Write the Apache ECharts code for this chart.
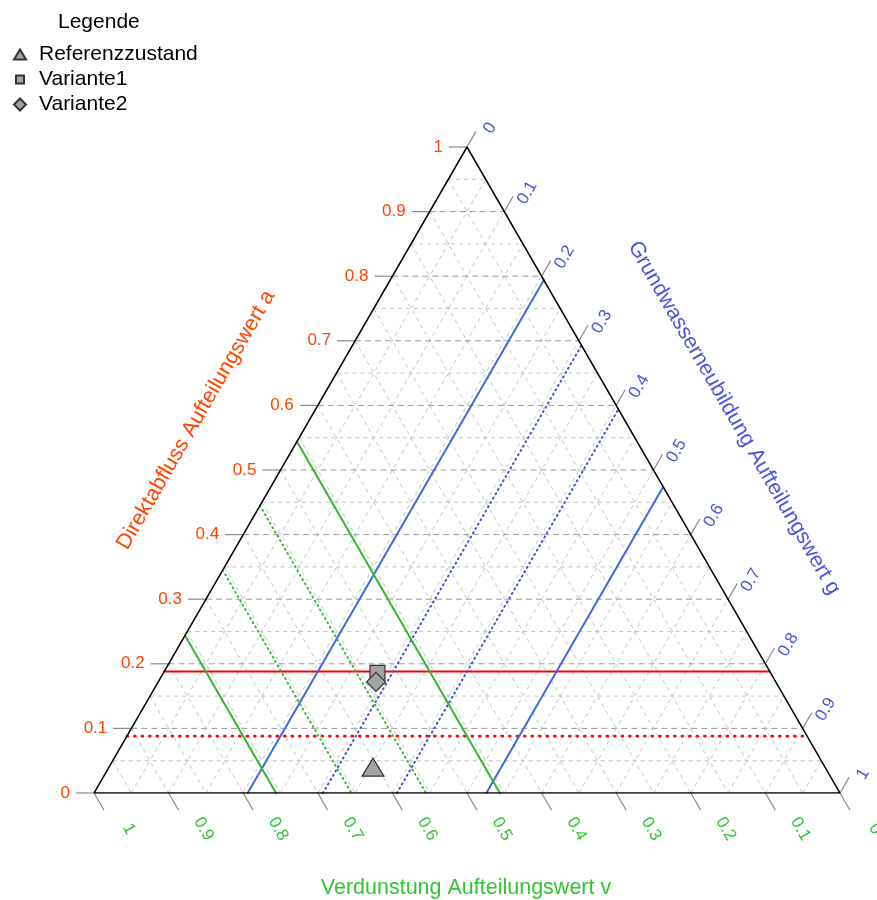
<!DOCTYPE html>
<html><head><meta charset="utf-8">
<script src="https://cdn.jsdelivr.net/npm/echarts@6/dist/echarts.min.js"></script>
<style>html,body{margin:0;padding:0;background:#fff}#c{width:877px;height:900px}</style>
</head><body><div id="c"></div>
<script>
// ---------------- data ----------------
const seriesNames = ['Referenzzustand', 'Variante1', 'Variante2'];
const pointA = [0.040, 0.186, 0.172];   // Direktabfluss
const pointV = [0.606, 0.527, 0.536];   // Verdunstung
const pointG = [0.354, 0.287, 0.292];   // Grundwasserneubildung
const redSolidA = [0.188];
const redDottedA = [0.088];
const blueSolidG = [0.206, 0.526];
const blueDottedG = [0.307, 0.406];
const greenSolidV = [0.756, 0.456];
const greenDottedV = [0.655, 0.555];
const tickValues = [0, 0.1, 0.2, 0.3, 0.4, 0.5, 0.6, 0.7, 0.8, 0.9, 1];
const tickLabels = ['0', '0.1', '0.2', '0.3', '0.4', '0.5', '0.6', '0.7', '0.8', '0.9', '1'];
const gridValues = [0.05, 0.1, 0.15, 0.2, 0.25, 0.3, 0.35, 0.4, 0.45, 0.5, 0.55, 0.6, 0.65, 0.7, 0.75, 0.8, 0.85, 0.9, 0.95];
const axisTitleA = 'Direktabfluss Aufteilungswert a';
const axisTitleG = 'Grundwasserneubildung Aufteilungswert g';
const axisTitleV = 'Verdunstung Aufteilungswert v';

// ---------------- helpers ----------------
const H = Math.sqrt(3) / 2;
function tern(a, g) { return [g + a / 2, a * H]; }
const FONT = '"Liberation Sans", Arial, sans-serif';
const C_RED = '#FF4500', C_BLUE = '#4B55DD', C_GREEN = '#33C433';

const chart = echarts.init(document.getElementById('c'), null, { renderer: 'canvas' });

function lineSeries(p1, p2, color, width, type, z) {
  return {
    type: 'line', data: [p1, p2], symbol: 'none', silent: true, z: z || 4,
    lineStyle: { color: color, width: width, type: type, cap: 'round' },
    animation: false
  };
}

const series = [];

// grid lines
series.push({
  type: 'custom', silent: true, z: 1, animation: false,
  data: gridValues.map(t => [t, 0]),
  renderItem: function (params, api) {
    const t = api.value(0);
    const major = Math.round(t * 20) % 2 === 0;
    const seg = (p, q, stroke, dash) => {
      const A = api.coord(p), B = api.coord(q);
      return { type: 'line', shape: { x1: A[0], y1: A[1], x2: B[0], y2: B[1] },
        style: { stroke: stroke, lineWidth: 1, lineDash: dash } };
    };
    return { type: 'group', children: [
      seg(tern(t, 0), tern(t, 1 - t), major ? '#999' : '#c4c4c4', major ? [6, 4] : [4, 4]),
      seg(tern(0, t), tern(1 - t, t), '#c4c4c4', [4, 4]),
      seg(tern(1 - t, 0), tern(0, 1 - t), '#c4c4c4', [4, 4])
    ] };
  }
});

// axis ticks + labels
function axisSeries(pts, cfg) {
  return {
    type: 'custom', silent: true, z: 3, animation: false,
    data: pts.map((p, i) => [p[0], p[1], i]),
    renderItem: function (params, api) {
      const p = api.coord([api.value(0), api.value(1)]);
      const i = api.value(2);
      return { type: 'group', children: [
        { type: 'line', shape: { x1: p[0], y1: p[1], x2: p[0] + cfg.dx, y2: p[1] + cfg.dy },
          style: { stroke: '#8a8a8a', lineWidth: 1.2 } },
        { type: 'text', x: p[0] + cfg.lx, y: p[1] + cfg.ly, rotation: cfg.rot,
          style: { text: tickLabels[i], fill: cfg.color, font: '17px ' + FONT,
            align: cfg.align, verticalAlign: 'middle' } }
      ] };
    }
  };
}
series.push(axisSeries(tickValues.map(t => tern(t, 0)),
  { dx: -18, dy: 0, lx: -24, ly: 0, rot: 0, align: 'right', color: C_RED }));
series.push(axisSeries(tickValues.map(t => tern(1 - t, t)),
  { dx: 9, dy: -15.6, lx: 23, ly: -19, rot: Math.PI / 3, align: 'center', color: C_BLUE }));
series.push(axisSeries(tickValues.map(t => tern(0, 1 - t)),
  { dx: 10, dy: 17.3, lx: 35, ly: 36, rot: -Math.PI / 3, align: 'center', color: C_GREEN }));

// reference lines
redSolidA.forEach(a => series.push(lineSeries(tern(a, 0), tern(a, 1 - a), '#FF0000', 2, 'solid')));
redDottedA.forEach(a => series.push(lineSeries(tern(a, 0), tern(a, 1 - a), '#FF0000', 2.6, [1, 6.5])));
blueSolidG.forEach(g => series.push(lineSeries(tern(0, g), tern(1 - g, g), '#4169E1', 2, 'solid')));
blueDottedG.forEach(g => series.push(lineSeries(tern(0, g), tern(1 - g, g), '#4050E0', 2, [1, 4])));
greenSolidV.forEach(v => series.push(lineSeries(tern(1 - v, 0), tern(0, 1 - v), '#2DBA2D', 2, 'solid')));
greenDottedV.forEach(v => series.push(lineSeries(tern(1 - v, 0), tern(0, 1 - v), '#33BB33', 2, [1, 4])));

// triangle frame
series.push({
  type: 'line', silent: true, symbol: 'none', z: 5, animation: false,
  data: [tern(0, 0), tern(0, 1), tern(1, 0), tern(0, 0)],
  lineStyle: { color: '#000', width: 1.5 }
});

// points
const symbols = ['triangle', 'rect', 'diamond'];
const sizes = [[22, 18], 15, [19, 19]];
seriesNames.forEach((n, i) => {
  series.push({
    type: 'scatter', name: n, symbol: symbols[i], symbolSize: sizes[i], z: 10 + i,
    data: [tern(pointA[i], pointG[i])], animation: false,
    itemStyle: { color: '#a3a3a3', borderColor: '#333', borderWidth: 1.2, opacity: 1 }
  });
});

chart.setOption({
  animation: false,
  backgroundColor: '#fff',
  title: { text: 'Legende', left: 53, top: 7,
    textStyle: { fontSize: 21, fontWeight: 'normal', color: '#000', fontFamily: FONT } },
  legend: {
    data: [
      { name: seriesNames[0], icon: 'path://M0,0M14,14M1,12L7,2L13,12Z' },
      { name: seriesNames[1], icon: 'path://M0,0M14,14M3,3L11,3L11,11L3,11Z' },
      { name: seriesNames[2], icon: 'path://M0,0M14,14M7,1L13,7L7,13L1,7Z' }
    ],
    orient: 'vertical', left: 7, top: 39, itemGap: 4,
    itemWidth: 14, itemHeight: 14, selectedMode: false,
    textStyle: { fontSize: 21, color: '#000', fontFamily: FONT, padding: [0, 0, 0, 7] }
  },
  grid: { left: 94, top: 147, width: 746, height: 646, containLabel: false },
  xAxis: { type: 'value', min: 0, max: 1, show: false },
  yAxis: { type: 'value', min: 0, max: H, show: false },
  graphic: [
    { type: 'text', x: 196, y: 420, rotation: Math.PI / 3,
      style: { text: axisTitleA, fill: C_RED, font: '21.5px ' + FONT, align: 'center', verticalAlign: 'middle' } },
    { type: 'text', x: 734, y: 418, rotation: -Math.PI / 3,
      style: { text: axisTitleG, fill: C_BLUE, font: '21.5px ' + FONT, align: 'center', verticalAlign: 'middle' } },
    { type: 'text', x: 466, y: 888,
      style: { text: axisTitleV, fill: C_GREEN, font: '21.5px ' + FONT, align: 'center', verticalAlign: 'middle' } }
  ],
  series: series
});
</script>
</body></html>
